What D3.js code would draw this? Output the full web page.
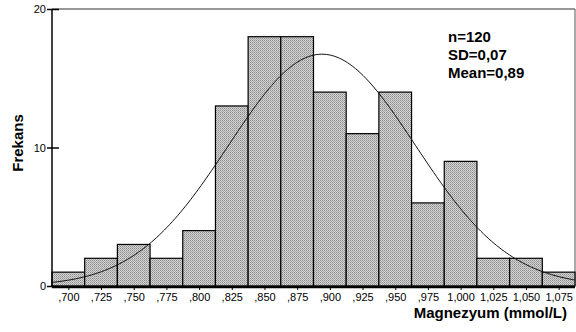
<!DOCTYPE html>
<html><head><meta charset="utf-8">
<script src="https://cdn.jsdelivr.net/npm/d3@7"></script>
<style>body{margin:0;background:#fff}svg{display:block}</style>
</head><body><svg id="c" width="576" height="332"></svg>
<script>
const binCenters = [0.700,0.725,0.750,0.775,0.800,0.825,0.850,0.875,0.900,0.925,0.950,0.975,1.000,1.025,1.050,1.075];
const counts     = [1,2,3,2,4,13,18,18,14,11,14,6,9,2,2,1];
const xTickLabels = [",700",",725",",750",",775",",800",",825",",850",",875",",900",",925",",950",",975","1,000","1,025","1,050","1,075"];
const yTicks = [0,10,20];
const statLines = ["n=120","SD=0,07","Mean=0,89"];
const n = 120, binWidth = 0.025, curveMean = 0.894, curveSD = 0.0715;

const svg = d3.select("#c");
const L = 52, R = 575, T = 9, B = 286;
const x = d3.scaleLinear().domain([0.6875, 1.0875]).range([L, R]);
const y = d3.scaleLinear().domain([0, 20]).range([B, T]);

const defs = svg.append("defs");
const pat = defs.append("pattern").attr("id","dots").attr("width",2).attr("height",2).attr("patternUnits","userSpaceOnUse");
pat.append("rect").attr("width",2).attr("height",2).attr("fill","#d4d4d4");
pat.append("rect").attr("width",1).attr("height",1).attr("fill","#8a8a8a");
pat.append("rect").attr("x",1).attr("y",1).attr("width",1).attr("height",1).attr("fill","#a8a8a8");

svg.append("line").attr("x1",L).attr("x2",R).attr("y1",T).attr("y2",T).attr("stroke","#333").attr("stroke-width",1.2);
svg.append("line").attr("x1",R).attr("x2",R).attr("y1",T).attr("y2",B).attr("stroke","#555").attr("stroke-width",1);

svg.selectAll("rect.bar").data(binCenters).join("rect").attr("class","bar")
  .attr("x", d => x(d - binWidth/2))
  .attr("width", d => x(d + binWidth/2) - x(d - binWidth/2))
  .attr("y", (d,i) => y(counts[i]))
  .attr("height", (d,i) => y(0) - y(counts[i]))
  .attr("fill","url(#dots)").attr("stroke","#000").attr("stroke-width",1.2);

const pts = d3.range(0, 201).map(i => {
  const v = 0.6875 + i*(0.4/200);
  const z = (v - curveMean)/curveSD;
  return [v, n*binWidth*Math.exp(-z*z/2)/(curveSD*Math.sqrt(2*Math.PI))];
});
svg.append("path").datum(pts)
  .attr("d", d3.line().x(d=>x(d[0])).y(d=>y(d[1])).curve(d3.curveBasis))
  .attr("fill","none").attr("stroke","#111").attr("stroke-width",1);

const ya = svg.append("g").attr("transform",`translate(${L},0)`)
  .call(d3.axisLeft(y).tickValues(yTicks).tickSize(6).tickFormat(d3.format("d")));
ya.select(".domain").attr("stroke","#000").attr("stroke-width",1.5).attr("d",`M0,${T}V${B+1}`);
ya.selectAll(".tick line").attr("x1",-5).attr("x2",7).attr("stroke-width",1.5);
ya.selectAll(".tick text").attr("x",-6).attr("font-family","Liberation Sans, Arial, sans-serif").attr("font-size",11).attr("fill","#000");

const xa = svg.append("g").attr("transform",`translate(0,${B+1})`)
  .call(d3.axisBottom(x).tickValues(binCenters).tickSize(3).tickFormat((d,i)=>xTickLabels[i]));
xa.select(".domain").attr("stroke","#000").attr("stroke-width",2.5).attr("d",`M${L},0H${R}`);
xa.selectAll(".tick line").attr("stroke-width",1);
xa.selectAll(".tick text").attr("y",6).attr("font-family","Liberation Sans Narrow, Liberation Sans, Arial, sans-serif").attr("font-size",11).attr("fill","#000");

svg.append("text").attr("transform","translate(18,143) rotate(-90)").attr("text-anchor","middle").attr("dy","0.35em")
  .attr("font-family","Liberation Sans, Arial, sans-serif").attr("font-weight","bold").attr("font-size",15).text("Frekans");
svg.append("text").attr("x",567).attr("y",318).attr("text-anchor","end")
  .attr("font-family","Liberation Sans, Arial, sans-serif").attr("font-weight","bold").attr("font-size",15).text("Magnezyum (mmol/L)");

svg.selectAll("text.stat").data(statLines).join("text").attr("class","stat")
  .attr("x",448).attr("y",(d,i)=>42+i*18)
  .attr("font-family","Liberation Sans, Arial, sans-serif").attr("font-weight","bold").attr("font-size",15).text(d=>d);
</script></body></html>
